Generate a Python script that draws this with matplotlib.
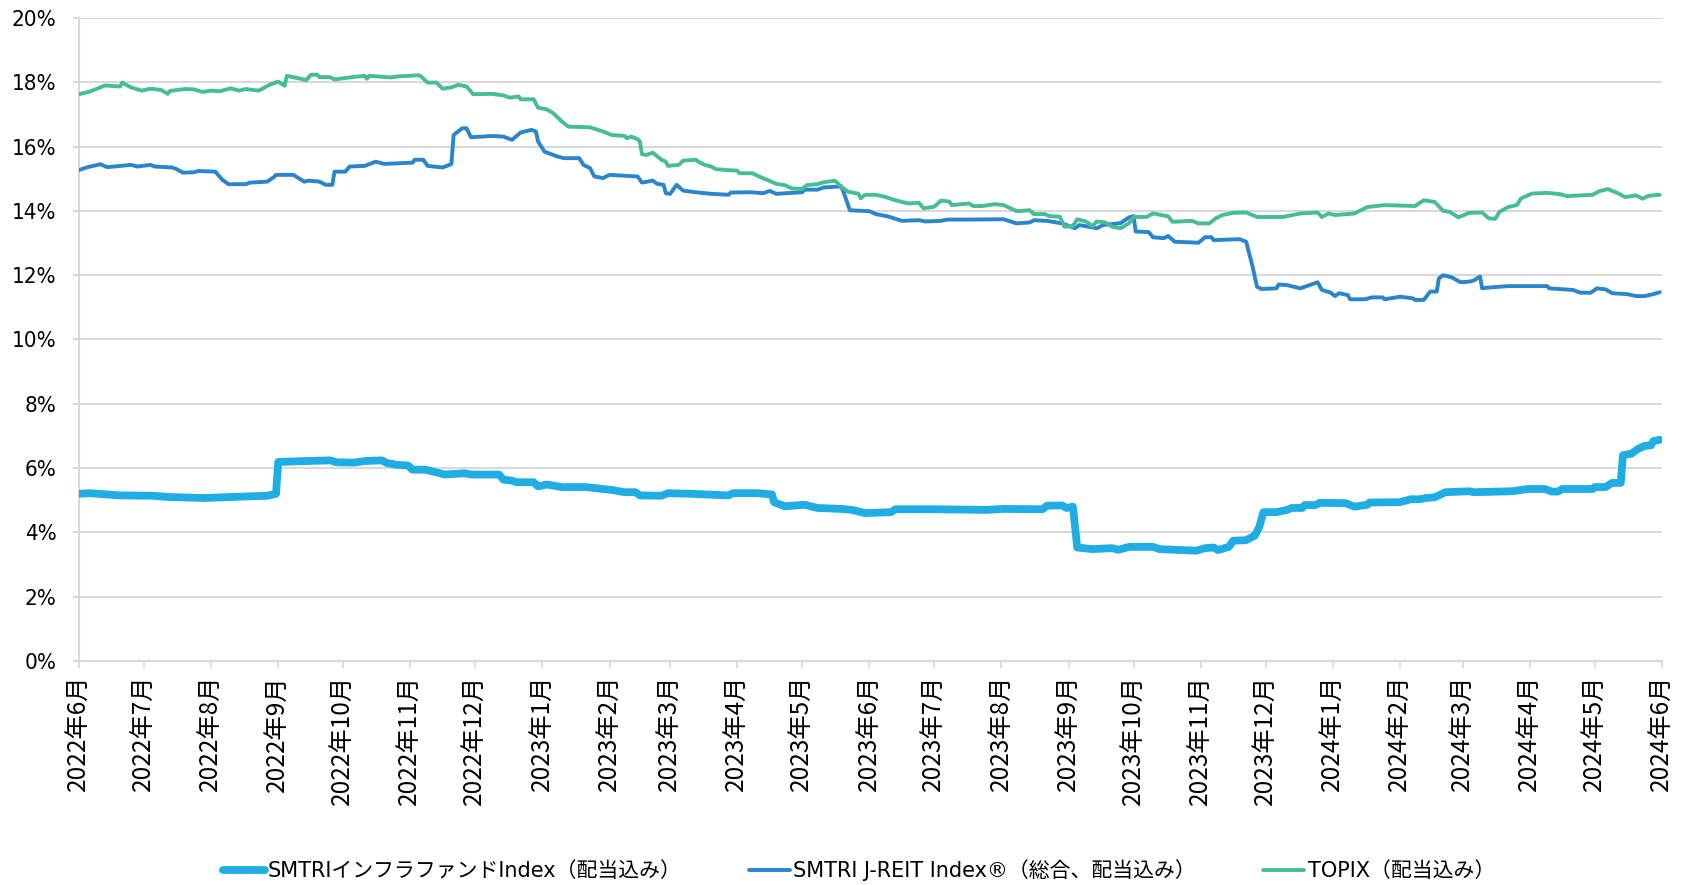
import matplotlib
matplotlib.use("Agg")
import matplotlib.pyplot as plt
import matplotlib.dates as mdates
import matplotlib.font_manager as fm
from matplotlib.ticker import FuncFormatter, MultipleLocator
import pandas as pd

# ---------------- data (yields, %) ----------------
labels = ["SMTRIインフラファンドIndex（配当込み）",
          "SMTRI J-REIT Index®（総合、配当込み）",
          "TOPIX（配当込み）"]

infra_dates = [
    "2022-06-01", "2022-06-06", "2022-06-20", "2022-07-05", "2022-07-13", "2022-07-29", "2022-08-14",
    "2022-08-27", "2022-08-31", "2022-09-01", "2022-09-14", "2022-09-25", "2022-09-28", "2022-10-06",
    "2022-10-11", "2022-10-19", "2022-10-21", "2022-10-26", "2022-10-31", "2022-11-02", "2022-11-08",
    "2022-11-17", "2022-11-26", "2022-11-29", "2022-12-12", "2022-12-14", "2022-12-18", "2022-12-20",
    "2022-12-28", "2022-12-30", "2023-01-03", "2023-01-10", "2023-01-21", "2023-01-29", "2023-02-02",
    "2023-02-08", "2023-02-13", "2023-02-15", "2023-02-25", "2023-02-28", "2023-03-11", "2023-03-28",
    "2023-03-30", "2023-04-10", "2023-04-17", "2023-04-18", "2023-04-23", "2023-05-02", "2023-05-08",
    "2023-05-19", "2023-05-24", "2023-05-30", "2023-06-11", "2023-06-13", "2023-07-01", "2023-07-25",
    "2023-08-02", "2023-08-20", "2023-08-22", "2023-08-29", "2023-08-31", "2023-09-03", "2023-09-05",
    "2023-09-12", "2023-09-21", "2023-09-24", "2023-09-29", "2023-10-10", "2023-10-13", "2023-10-30",
    "2023-11-03", "2023-11-07", "2023-11-09", "2023-11-14", "2023-11-16", "2023-11-22", "2023-11-26",
    "2023-11-28", "2023-11-30", "2023-12-06", "2023-12-11", "2023-12-13", "2023-12-18", "2023-12-19",
    "2023-12-24", "2023-12-26", "2024-01-07", "2024-01-11", "2024-01-17", "2024-01-18", "2024-02-01",
    "2024-02-06", "2024-02-10", "2024-02-13", "2024-02-17", "2024-02-22", "2024-03-04", "2024-03-06",
    "2024-03-24", "2024-03-31", "2024-04-08", "2024-04-11", "2024-04-14", "2024-04-16", "2024-04-30",
    "2024-05-01", "2024-05-06", "2024-05-09", "2024-05-13", "2024-05-14", "2024-05-18", "2024-05-21",
    "2024-05-24", "2024-05-27", "2024-05-28", "2024-05-31"]
infra_values = [
    5.20, 5.22, 5.15, 5.14, 5.10, 5.07, 5.11,
    5.14, 5.20, 6.19, 6.22, 6.24, 6.18, 6.17,
    6.22, 6.24, 6.16, 6.10, 6.08, 5.95, 5.95,
    5.80, 5.84, 5.80, 5.80, 5.64, 5.61, 5.56,
    5.56, 5.43, 5.49, 5.41, 5.41, 5.35, 5.32,
    5.25, 5.25, 5.15, 5.14, 5.22, 5.20, 5.15,
    5.22, 5.22, 5.18, 4.94, 4.81, 4.86, 4.76,
    4.73, 4.70, 4.60, 4.63, 4.72, 4.72, 4.70,
    4.73, 4.72, 4.83, 4.84, 4.76, 4.80, 3.53,
    3.48, 3.51, 3.46, 3.55, 3.55, 3.48, 3.43,
    3.51, 3.53, 3.45, 3.55, 3.74, 3.76, 3.90,
    4.16, 4.63, 4.63, 4.70, 4.76, 4.76, 4.85,
    4.85, 4.92, 4.91, 4.80, 4.86, 4.93, 4.94,
    5.03, 5.03, 5.07, 5.09, 5.25, 5.28, 5.25,
    5.28, 5.35, 5.35, 5.27, 5.27, 5.35, 5.35,
    5.41, 5.41, 5.54, 5.54, 6.40, 6.45, 6.60,
    6.69, 6.71, 6.84, 6.88]

jreit_dates = [
    "2022-06-01", "2022-06-05", "2022-06-11", "2022-06-14", "2022-06-25", "2022-06-28", "2022-07-04",
    "2022-07-06", "2022-07-14", "2022-07-16", "2022-07-19", "2022-07-24", "2022-07-26", "2022-08-03",
    "2022-08-06", "2022-08-09", "2022-08-17", "2022-08-19", "2022-08-27", "2022-08-30", "2022-08-31",
    "2022-09-08", "2022-09-13", "2022-09-15", "2022-09-20", "2022-09-23", "2022-09-26", "2022-09-27",
    "2022-10-02", "2022-10-04", "2022-10-11", "2022-10-16", "2022-10-20", "2022-11-02", "2022-11-03",
    "2022-11-07", "2022-11-09", "2022-11-16", "2022-11-20", "2022-11-21", "2022-11-25", "2022-11-27",
    "2022-11-29", "2022-12-09", "2022-12-14", "2022-12-18", "2022-12-22", "2022-12-27", "2022-12-29",
    "2022-12-30", "2023-01-02", "2023-01-08", "2023-01-11", "2023-01-18", "2023-01-20", "2023-01-23",
    "2023-01-25", "2023-01-29", "2023-02-01", "2023-02-14", "2023-02-16", "2023-02-21", "2023-02-23",
    "2023-02-26", "2023-02-27", "2023-03-01", "2023-03-04", "2023-03-07", "2023-03-14", "2023-03-20",
    "2023-03-28", "2023-03-29", "2023-04-07", "2023-04-13", "2023-04-16", "2023-04-19", "2023-05-01",
    "2023-05-02", "2023-05-08", "2023-05-11", "2023-05-19", "2023-05-20", "2023-05-23", "2023-06-01",
    "2023-06-04", "2023-06-10", "2023-06-16", "2023-06-24", "2023-06-27", "2023-07-04", "2023-07-07",
    "2023-07-17", "2023-08-02", "2023-08-08", "2023-08-14", "2023-08-16", "2023-08-22", "2023-08-29",
    "2023-09-04", "2023-09-06", "2023-09-14", "2023-09-17", "2023-09-21", "2023-09-25", "2023-09-29",
    "2023-10-01", "2023-10-02", "2023-10-08", "2023-10-10", "2023-10-15", "2023-10-17", "2023-10-20",
    "2023-10-31", "2023-11-03", "2023-11-06", "2023-11-07", "2023-11-19", "2023-11-22", "2023-11-25",
    "2023-11-27", "2023-11-29", "2023-12-06", "2023-12-07", "2023-12-11", "2023-12-17", "2023-12-25",
    "2023-12-27", "2023-12-31", "2024-01-02", "2024-01-04", "2024-01-08", "2024-01-09", "2024-01-16",
    "2024-01-19", "2024-01-24", "2024-01-25", "2024-02-01", "2024-02-07", "2024-02-08", "2024-02-12",
    "2024-02-15", "2024-02-18", "2024-02-19", "2024-02-21", "2024-02-25", "2024-02-29", "2024-03-04",
    "2024-03-06", "2024-03-09", "2024-03-10", "2024-03-12", "2024-03-22", "2024-04-09", "2024-04-10",
    "2024-04-21", "2024-04-24", "2024-04-29", "2024-05-02", "2024-05-06", "2024-05-09", "2024-05-16",
    "2024-05-20", "2024-05-24", "2024-05-28", "2024-05-31"]
jreit_values = [
    15.27, 15.36, 15.45, 15.36, 15.43, 15.38, 15.43,
    15.38, 15.35, 15.30, 15.19, 15.20, 15.24, 15.22,
    14.98, 14.83, 14.83, 14.88, 14.91, 15.05, 15.12,
    15.12, 14.91, 14.94, 14.91, 14.81, 14.81, 15.22,
    15.22, 15.38, 15.40, 15.53, 15.46, 15.50, 15.59,
    15.59, 15.40, 15.35, 15.46, 16.36, 16.57, 16.57,
    16.29, 16.33, 16.31, 16.21, 16.44, 16.52, 16.47,
    16.16, 15.84, 15.69, 15.64, 15.64, 15.43, 15.33,
    15.07, 15.02, 15.12, 15.07, 14.88, 14.94, 14.84,
    14.81, 14.55, 14.53, 14.81, 14.63, 14.57, 14.53,
    14.50, 14.57, 14.58, 14.55, 14.62, 14.53, 14.58,
    14.66, 14.66, 14.73, 14.76, 14.60, 14.02, 13.99,
    13.90, 13.82, 13.69, 13.71, 13.67, 13.69, 13.73,
    13.73, 13.74, 13.61, 13.64, 13.71, 13.69, 13.61,
    13.46, 13.56, 13.46, 13.56, 13.59, 13.62, 13.80,
    13.84, 13.36, 13.34, 13.18, 13.15, 13.22, 13.04,
    13.01, 13.18, 13.18, 13.09, 13.12, 13.04, 12.26,
    11.64, 11.57, 11.59, 11.71, 11.69, 11.59, 11.78,
    11.54, 11.46, 11.35, 11.44, 11.38, 11.25, 11.25,
    11.31, 11.31, 11.25, 11.33, 11.28, 11.23, 11.23,
    11.49, 11.49, 11.90, 12.00, 11.93, 11.78, 11.80,
    11.83, 11.96, 11.59, 11.61, 11.66, 11.66, 11.59,
    11.54, 11.46, 11.45, 11.59, 11.56, 11.44, 11.41,
    11.35, 11.35, 11.41, 11.47]

topix_dates = [
    "2022-06-01", "2022-06-06", "2022-06-13", "2022-06-20", "2022-06-21", "2022-06-25", "2022-06-30",
    "2022-07-04", "2022-07-09", "2022-07-12", "2022-07-13", "2022-07-20", "2022-07-24", "2022-07-28",
    "2022-08-01", "2022-08-05", "2022-08-10", "2022-08-14", "2022-08-17", "2022-08-23", "2022-08-28",
    "2022-09-01", "2022-09-04", "2022-09-05", "2022-09-14", "2022-09-16", "2022-09-19", "2022-09-20",
    "2022-09-25", "2022-09-27", "2022-10-04", "2022-10-11", "2022-10-12", "2022-10-13", "2022-10-23",
    "2022-10-26", "2022-11-05", "2022-11-06", "2022-11-09", "2022-11-13", "2022-11-16", "2022-11-20",
    "2022-11-23", "2022-11-27", "2022-11-30", "2022-12-09", "2022-12-14", "2022-12-17", "2022-12-21",
    "2022-12-22", "2022-12-28", "2022-12-30", "2023-01-03", "2023-01-06", "2023-01-10", "2023-01-13",
    "2023-01-23", "2023-01-29", "2023-02-02", "2023-02-08", "2023-02-09", "2023-02-11", "2023-02-14",
    "2023-02-15", "2023-02-16", "2023-02-18", "2023-02-21", "2023-02-25", "2023-02-27", "2023-02-28",
    "2023-03-05", "2023-03-07", "2023-03-13", "2023-03-14", "2023-03-17", "2023-03-20", "2023-03-22",
    "2023-03-27", "2023-04-01", "2023-04-02", "2023-04-08", "2023-04-11", "2023-04-15", "2023-04-19",
    "2023-04-23", "2023-04-26", "2023-05-01", "2023-05-03", "2023-05-08", "2023-05-11", "2023-05-16",
    "2023-05-19", "2023-05-22", "2023-05-27", "2023-05-28", "2023-05-30", "2023-06-04", "2023-06-08",
    "2023-06-13", "2023-06-19", "2023-06-24", "2023-06-26", "2023-07-01", "2023-07-04", "2023-07-08",
    "2023-07-09", "2023-07-17", "2023-07-19", "2023-07-23", "2023-07-29", "2023-08-02", "2023-08-08",
    "2023-08-14", "2023-08-16", "2023-08-21", "2023-08-23", "2023-08-28", "2023-08-30", "2023-09-03",
    "2023-09-05", "2023-09-09", "2023-09-12", "2023-09-14", "2023-09-18", "2023-09-21", "2023-09-25",
    "2023-09-29", "2023-10-01", "2023-10-07", "2023-10-10", "2023-10-17", "2023-10-19", "2023-10-28",
    "2023-10-31", "2023-11-05", "2023-11-08", "2023-11-11", "2023-11-16", "2023-11-22", "2023-11-27",
    "2023-12-09", "2023-12-17", "2023-12-25", "2023-12-27", "2023-12-30", "2024-01-02", "2024-01-11",
    "2024-01-17", "2024-01-25", "2024-02-08", "2024-02-12", "2024-02-17", "2024-02-21", "2024-02-24",
    "2024-02-28", "2024-03-04", "2024-03-10", "2024-03-13", "2024-03-16", "2024-03-18", "2024-03-22",
    "2024-03-26", "2024-03-28", "2024-04-02", "2024-04-09", "2024-04-15", "2024-04-18", "2024-04-24",
    "2024-04-30", "2024-05-03", "2024-05-07", "2024-05-12", "2024-05-15", "2024-05-20", "2024-05-23",
    "2024-05-26", "2024-05-31"]
topix_values = [
    17.63, 17.71, 17.90, 17.87, 17.99, 17.84, 17.74,
    17.80, 17.76, 17.64, 17.73, 17.79, 17.78, 17.70,
    17.74, 17.72, 17.81, 17.74, 17.79, 17.74, 17.92,
    18.02, 17.89, 18.20, 18.07, 18.23, 18.24, 18.16,
    18.16, 18.09, 18.15, 18.20, 18.11, 18.20, 18.15,
    18.18, 18.22, 18.18, 17.99, 17.99, 17.80, 17.84,
    17.92, 17.87, 17.63, 17.64, 17.59, 17.52, 17.56,
    17.47, 17.47, 17.21, 17.16, 17.04, 16.78, 16.62,
    16.60, 16.47, 16.36, 16.33, 16.26, 16.31, 16.23,
    16.16, 15.76, 15.74, 15.81, 15.59, 15.53, 15.40,
    15.43, 15.56, 15.59, 15.53, 15.43, 15.38, 15.30,
    15.27, 15.25, 15.17, 15.17, 15.07, 14.96, 14.84,
    14.80, 14.70, 14.68, 14.80, 14.83, 14.89, 14.94,
    14.76, 14.60, 14.53, 14.39, 14.50, 14.50, 14.44,
    14.33, 14.23, 14.25, 14.08, 14.13, 14.32, 14.29,
    14.18, 14.23, 14.15, 14.15, 14.21, 14.18, 13.99,
    14.02, 13.90, 13.90, 13.84, 13.82, 13.51, 13.53,
    13.74, 13.67, 13.53, 13.67, 13.64, 13.51, 13.46,
    13.62, 13.81, 13.81, 13.92, 13.83, 13.66, 13.69,
    13.61, 13.61, 13.77, 13.87, 13.94, 13.95, 13.81,
    13.81, 13.92, 13.95, 13.81, 13.92, 13.87, 13.92,
    14.12, 14.18, 14.15, 14.33, 14.28, 14.00, 13.97,
    13.80, 13.94, 13.95, 13.77, 13.75, 13.97, 14.12,
    14.18, 14.39, 14.54, 14.56, 14.52, 14.46, 14.48,
    14.50, 14.61, 14.68, 14.54, 14.43, 14.48, 14.38,
    14.47, 14.50]

x_start, x_end = "2022-06-01", "2024-06-01"
y_min, y_max, y_step = 0, 20, 2

# ---------------- fonts ----------------
cjk = "Noto Sans CJK JP"
entries = fm.fontManager.ttflist
names = {f.name for f in entries}
cond = [f for f in entries
        if str(f.stretch) in ("condensed", "semi-condensed", "75", "87")
        and "Sans" in f.name and "Mono" not in f.name and f.style == "normal"
        and str(f.weight) in ("400", "normal", "regular", "book")]
if "Liberation Sans Narrow" in names:
    latin_fp = fm.FontProperties(family="Liberation Sans Narrow")
    latin_name = "Liberation Sans Narrow"
elif cond:
    latin_fp = fm.FontProperties(fname=cond[0].fname)
    latin_name = cond[0].name
else:
    latin_fp = fm.FontProperties(family="Liberation Sans")
    latin_name = "Liberation Sans"

# ---------------- figure ----------------
fig = plt.figure(figsize=(16.91, 8.85), dpi=100)
ax = fig.add_axes([0.0467, 0.2531, 0.9361, 0.7266])

c_infra = "#1fade4"
c_jreit = "#2a85ca"
c_topix = "#47bd97"

series = [
    (infra_dates, infra_values, c_infra, 5.6),
    (jreit_dates, jreit_values, c_jreit, 2.8),
    (topix_dates, topix_values, c_topix, 2.8),
]
for (d, v, c, lw), lab in zip(series, labels):
    ax.plot(pd.to_datetime(d), v, color=c, lw=lw, label=lab,
            solid_capstyle="round", solid_joinstyle="round", zorder=3)

ax.set_xlim(pd.Timestamp(x_start), pd.Timestamp(x_end))
ax.set_ylim(y_min, y_max)
ax.yaxis.set_major_locator(MultipleLocator(y_step))
ax.yaxis.set_major_formatter(FuncFormatter(lambda v, p: f"{v:.0f}%"))
ax.xaxis.set_major_locator(mdates.MonthLocator())
ax.xaxis.set_major_formatter(FuncFormatter(
    lambda v, p: f"{mdates.num2date(v).year}年{mdates.num2date(v).month}月"))

grid_c = "#d9d9d9"
ax.grid(axis="y", color=grid_c, lw=1.5, zorder=0)
for s in ["top", "right"]:
    ax.spines[s].set_visible(False)
for s in ["left", "bottom"]:
    ax.spines[s].set_color(grid_c)
    ax.spines[s].set_linewidth(1.5)

ax.tick_params(axis="y", length=4, width=1.5, color=grid_c, pad=12,
               labelcolor="#000000")
ax.tick_params(axis="x", length=5, width=1.2, color=grid_c, pad=5,
               labelcolor="#000000", labelrotation=90)
for t in ax.get_yticklabels():
    t.set_fontproperties(latin_fp)
    t.set_fontsize(16)
for t in ax.get_xticklabels():
    t.set_fontfamily([cjk])
    t.set_fontsize(17.5)
    t.set_verticalalignment("top")

leg = fig.legend(loc="center", bbox_to_anchor=(0.508, 0.017), ncol=3, frameon=False,
                 prop={"family": [latin_name, cjk], "size": 15},
                 handlelength=2.0, handletextpad=0.15, columnspacing=3.2)

fig.savefig("out.png", dpi=100, facecolor="white")
